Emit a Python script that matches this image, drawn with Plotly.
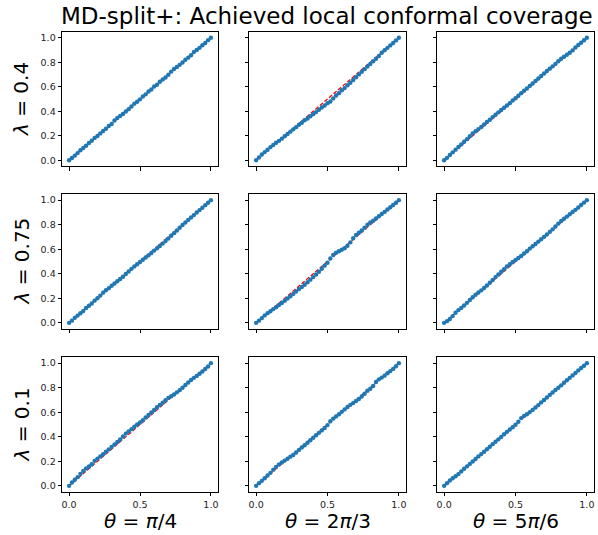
import plotly.graph_objects as go

# ---------------- data ----------------
levels = [0.00, 0.02, 0.04, 0.06, 0.08, 0.10, 0.12, 0.14, 0.16, 0.18,
          0.20, 0.22, 0.24, 0.26, 0.28, 0.30, 0.32, 0.34, 0.36, 0.38,
          0.40, 0.42, 0.44, 0.46, 0.48, 0.50, 0.52, 0.54, 0.56, 0.58,
          0.60, 0.62, 0.64, 0.66, 0.68, 0.70, 0.72, 0.74, 0.76, 0.78,
          0.80, 0.82, 0.84, 0.86, 0.88, 0.90, 0.92, 0.94, 0.96, 0.98, 1.00]

row_labels = ["<i>λ</i> = 0.4", "<i>λ</i> = 0.75", "<i>λ</i> = 0.1"]
col_labels = ["<i>θ</i> = <i>π</i>/4", "<i>θ</i> = 2<i>π</i>/3", "<i>θ</i> = 5<i>π</i>/6"]
title_text = "MD-split+: Achieved local conformal coverage"

cov_l04_t1 = [0.000, 0.018, 0.037, 0.058, 0.081, 0.099, 0.118, 0.141, 0.159, 0.182,
              0.198, 0.219, 0.238, 0.257, 0.279, 0.296, 0.324, 0.345, 0.362, 0.378,
              0.398, 0.417, 0.439, 0.462, 0.478, 0.497, 0.521, 0.538, 0.561, 0.578,
              0.602, 0.617, 0.641, 0.659, 0.676, 0.698, 0.724, 0.745, 0.762, 0.779,
              0.798, 0.821, 0.838, 0.858, 0.884, 0.901, 0.918, 0.939, 0.958, 0.981, 1.000]
cov_l04_t2 = [0.000, 0.022, 0.047, 0.066, 0.085, 0.107, 0.124, 0.142, 0.158, 0.176,
              0.196, 0.214, 0.233, 0.252, 0.270, 0.289, 0.306, 0.326, 0.341, 0.359,
              0.376, 0.393, 0.412, 0.430, 0.447, 0.466, 0.480, 0.505, 0.528, 0.548,
              0.572, 0.589, 0.612, 0.633, 0.655, 0.678, 0.701, 0.722, 0.744, 0.766,
              0.787, 0.808, 0.829, 0.852, 0.878, 0.899, 0.918, 0.938, 0.958, 0.979, 1.000]
cov_l04_t3 = [0.000, 0.019, 0.042, 0.064, 0.086, 0.108, 0.129, 0.151, 0.172, 0.196,
              0.219, 0.236, 0.254, 0.271, 0.292, 0.313, 0.331, 0.352, 0.371, 0.391,
              0.410, 0.428, 0.447, 0.466, 0.488, 0.506, 0.527, 0.548, 0.568, 0.586,
              0.607, 0.627, 0.647, 0.667, 0.688, 0.708, 0.729, 0.748, 0.767, 0.787,
              0.808, 0.829, 0.845, 0.862, 0.878, 0.897, 0.921, 0.941, 0.960, 0.980, 1.000]
cov_l075_t1 = [0.000, 0.018, 0.041, 0.059, 0.078, 0.097, 0.121, 0.139, 0.158, 0.181,
               0.201, 0.222, 0.246, 0.266, 0.283, 0.302, 0.321, 0.339, 0.358, 0.376,
               0.398, 0.419, 0.440, 0.460, 0.478, 0.496, 0.514, 0.532, 0.550, 0.569,
               0.589, 0.607, 0.626, 0.646, 0.667, 0.688, 0.710, 0.731, 0.752, 0.775,
               0.797, 0.818, 0.839, 0.859, 0.878, 0.899, 0.919, 0.938, 0.959, 0.979, 1.000]
cov_l075_t2 = [0.000, 0.018, 0.039, 0.061, 0.079, 0.095, 0.112, 0.127, 0.145, 0.162,
               0.180, 0.198, 0.217, 0.236, 0.256, 0.275, 0.292, 0.310, 0.331, 0.352,
               0.373, 0.394, 0.416, 0.441, 0.466, 0.490, 0.524, 0.553, 0.572, 0.584,
               0.596, 0.608, 0.628, 0.656, 0.690, 0.716, 0.734, 0.752, 0.775, 0.800,
               0.818, 0.832, 0.850, 0.869, 0.887, 0.904, 0.924, 0.942, 0.960, 0.979, 1.000]
cov_l075_t3 = [0.000, 0.014, 0.032, 0.055, 0.082, 0.104, 0.122, 0.141, 0.163, 0.186,
               0.209, 0.229, 0.248, 0.265, 0.284, 0.305, 0.327, 0.349, 0.373, 0.394,
               0.416, 0.437, 0.459, 0.478, 0.496, 0.512, 0.528, 0.545, 0.565, 0.584,
               0.605, 0.624, 0.643, 0.662, 0.681, 0.701, 0.720, 0.741, 0.762, 0.785,
               0.809, 0.830, 0.848, 0.866, 0.885, 0.903, 0.921, 0.940, 0.960, 0.980, 1.000]
cov_l01_t1 = [0.000, 0.028, 0.050, 0.071, 0.098, 0.122, 0.142, 0.158, 0.176, 0.204,
              0.222, 0.240, 0.258, 0.279, 0.297, 0.318, 0.338, 0.358, 0.378, 0.402,
              0.426, 0.444, 0.462, 0.482, 0.500, 0.516, 0.535, 0.557, 0.577, 0.598,
              0.618, 0.640, 0.660, 0.677, 0.697, 0.717, 0.730, 0.745, 0.762, 0.780,
              0.800, 0.822, 0.842, 0.862, 0.880, 0.896, 0.913, 0.932, 0.952, 0.972, 1.000]
cov_l01_t2 = [0.000, 0.022, 0.041, 0.062, 0.084, 0.106, 0.132, 0.155, 0.175, 0.191,
              0.206, 0.221, 0.238, 0.252, 0.272, 0.293, 0.312, 0.331, 0.351, 0.372,
              0.392, 0.412, 0.432, 0.452, 0.472, 0.495, 0.527, 0.548, 0.566, 0.584,
              0.603, 0.623, 0.643, 0.660, 0.675, 0.691, 0.708, 0.728, 0.751, 0.775,
              0.791, 0.814, 0.846, 0.868, 0.882, 0.898, 0.917, 0.935, 0.953, 0.975, 1.000]
cov_l01_t3 = [0.000, 0.022, 0.044, 0.062, 0.078, 0.096, 0.118, 0.140, 0.159, 0.179,
              0.198, 0.219, 0.240, 0.259, 0.278, 0.298, 0.319, 0.340, 0.360, 0.379,
              0.399, 0.420, 0.440, 0.459, 0.478, 0.498, 0.522, 0.552, 0.570, 0.584,
              0.601, 0.619, 0.638, 0.658, 0.680, 0.700, 0.720, 0.741, 0.761, 0.781,
              0.800, 0.819, 0.840, 0.861, 0.880, 0.900, 0.920, 0.941, 0.960, 0.979, 1.000]

grid = [[cov_l04_t1, cov_l04_t2, cov_l04_t3],
        [cov_l075_t1, cov_l075_t2, cov_l075_t3],
        [cov_l01_t1, cov_l01_t2, cov_l01_t3]]

x_ticks = [0.0, 0.5, 1.0]
x_ticktext = ["0.0", "0.5", "1.0"]
y_ticks = [0.0, 0.2, 0.4, 0.6, 0.8, 1.0]
y_ticktext = ["0.0", "0.2", "0.4", "0.6", "0.8", "1.0"]
diag = [0.0, 1.0]

# ---------------- layout geometry (pixels) ----------------
W, H = 598, 535
col_px = [(62, 218), (249, 406), (437, 594)]
row_px = [(31.7, 166.3), (194, 329), (357, 492)]

FONT = "DejaVu Sans"
fig = go.Figure()
layout = dict(width=W, height=H, margin=dict(l=0, r=0, t=0, b=0),
              plot_bgcolor="white", paper_bgcolor="white", showlegend=False,
              font=dict(family=FONT, color="#222222"))

for r in range(3):
    for c in range(3):
        k = r * 3 + c + 1
        xa = "x" if k == 1 else f"x{k}"
        ya = "y" if k == 1 else f"y{k}"
        fig.add_trace(go.Scatter(x=diag, y=diag, mode="lines", xaxis=xa, yaxis=ya,
                                 line=dict(color="red", width=1.3, dash="4px,2px"),
                                 hoverinfo="skip"))
        fig.add_trace(go.Scatter(x=levels, y=grid[r][c], mode="markers", xaxis=xa, yaxis=ya,
                                 marker=dict(color="#1f77b4", size=4.4, line=dict(width=0))))
        x0, x1 = col_px[c]
        y0, y1 = row_px[r]
        common = dict(showgrid=False, zeroline=False, showline=True, mirror=True,
                      linecolor="black", linewidth=0.8, ticks="outside", ticklen=3.5,
                      tickwidth=0.8, tickcolor="black", range=[-0.05, 1.05],
                      tickfont=dict(family=FONT, size=9.5, color="#222222"))
        layout["xaxis" if k == 1 else f"xaxis{k}"] = dict(
            common, domain=[x0 / W, x1 / W], anchor=ya,
            tickvals=x_ticks, ticktext=x_ticktext, showticklabels=(r == 2))
        layout["yaxis" if k == 1 else f"yaxis{k}"] = dict(
            common, domain=[1 - y1 / H, 1 - y0 / H], anchor=xa,
            tickvals=y_ticks, ticktext=y_ticktext, showticklabels=(c == 0))

annotations = [dict(text=title_text, x=327 / W, y=1 - 16 / H, xref="paper", yref="paper",
                    xanchor="center", yanchor="middle", showarrow=False,
                    font=dict(family=FONT, size=23, color="black"))]
for r in range(3):
    yc = (row_px[r][0] + row_px[r][1]) / 2
    annotations.append(dict(text=row_labels[r], x=21 / W, y=1 - yc / H, xref="paper", yref="paper",
                            xanchor="center", yanchor="middle", textangle=-90, showarrow=False,
                            font=dict(family=FONT, size=20, color="black")))
for c in range(3):
    xc = (col_px[c][0] + col_px[c][1]) / 2
    annotations.append(dict(text=col_labels[c], x=xc / W, y=1 - 521 / H, xref="paper", yref="paper",
                            xanchor="center", yanchor="middle", showarrow=False,
                            font=dict(family=FONT, size=20, color="black")))
layout["annotations"] = annotations
fig.update_layout(**layout)
fig.write_html("out.html", config={"displayModeBar": False},
               post_script="document.body.style.margin='0px';document.body.style.overflow='hidden';")
